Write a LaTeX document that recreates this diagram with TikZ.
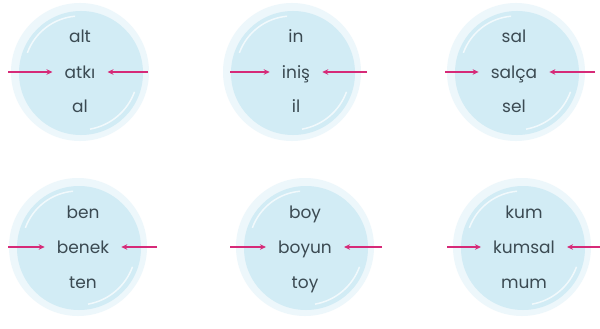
\documentclass[tikz,border=0pt]{standalone}
\usepackage{fontspec}
\setmainfont{Poppins}
\usetikzlibrary{arrows.meta}
\definecolor{blobin}{HTML}{D2ECF5}
\definecolor{blobout}{HTML}{EDF7FB}
\definecolor{wordc}{HTML}{3B4A52}
\definecolor{arrc}{HTML}{D62A78}
\tikzset{
  word/.style={text=wordc, font=\fontsize{17}{20}\selectfont, inner sep=0pt, anchor=base},
  pointer/.style={draw=arrc, line width=1.3pt, -{Stealth[length=6pt,width=5.5pt]}},
  blobouter/.style={fill=blobout},
  blobinner/.style={fill=blobin},
  blobstreak/.style={draw=white, line width=1.5pt, opacity=0.7},
}
\newcommand{\wordgroup}[9]{%
  % #1 name, #2 cx, #3 cy, #4 top, #5 mid, #6 bottom, #7 left start x, #8 right start x, #9 text x
  \fill[blobouter] (#2,#3) circle (69);
  \fill[blobinner] (#2+1,#3+1) circle (62);
  \draw[blobstreak] (#2,#3) ++(200:56) arc (200:265:56);
  \draw[blobstreak] (#2,#3) ++(20:58) arc (20:80:58);
  \node[word] (#1t) at (#9,#3-29) {#4};
  \node[word] (#1m) at (#9,#3+6) {#5};
  \node[word] (#1b) at (#9,#3+41) {#6};
  \coordinate (#1l) at (#7,#3);
  \coordinate (#1r) at (#8,#3);
  \draw[pointer] (#1l) -- ([xshift=-12pt]#1m.west |- #1l);
  \draw[pointer] (#1r) -- ([xshift=12pt]#1m.east |- #1r);
}
\begin{document}
\begin{tikzpicture}[x=1pt,y=-1pt]
\useasboundingbox[fill=white] (0,0) rectangle (600,329);
\wordgroup{a}{80}{72}{alt}{atkı}{al}{8}{148}{80}
\wordgroup{b}{292}{72}{in}{iniş}{il}{230}{367}{296}
\wordgroup{c}{516}{72}{sal}{salça}{sel}{445}{595}{514}
\wordgroup{d}{78}{247}{ben}{benek}{ten}{8}{157}{83}
\wordgroup{e}{305}{247}{boy}{boyun}{toy}{230}{382}{305}
\wordgroup{f}{522}{247}{kum}{kumsal}{mum}{447}{600}{524}
\end{tikzpicture}
\end{document}
